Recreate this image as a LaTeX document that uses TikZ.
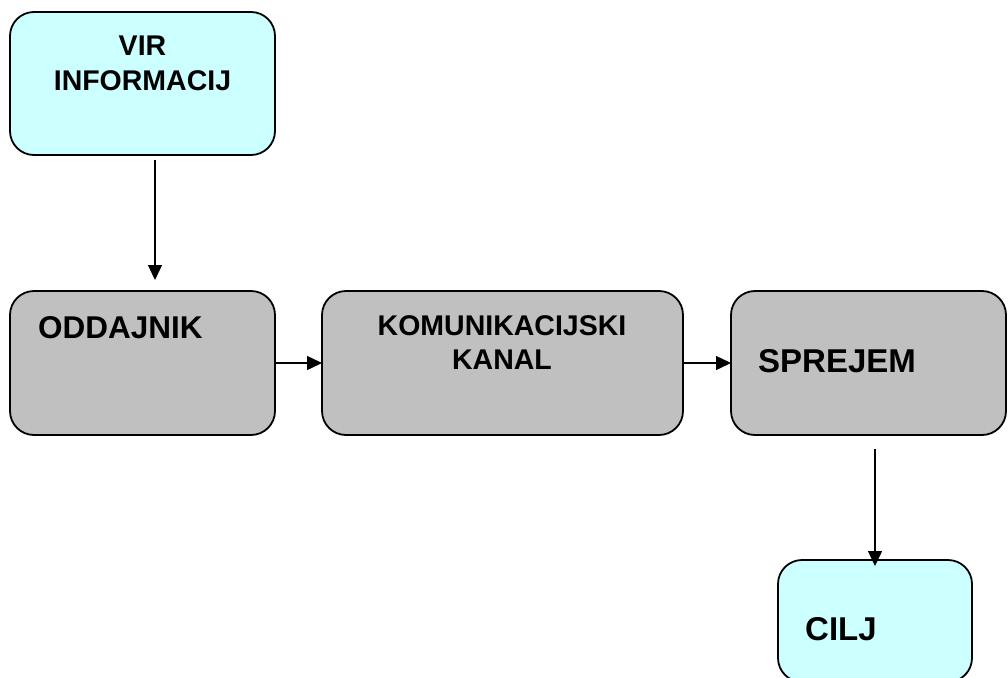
\documentclass[tikz,border=0pt]{standalone}
\usepackage{fontspec}
\setmainfont{Liberation Sans}
\usetikzlibrary{arrows.meta}
\definecolor{lcyan}{HTML}{CCFFFF}
\definecolor{lgray}{HTML}{C0C0C0}
\tikzset{
  boxbase/.style={draw=black, line width=1.8pt, rounded corners=24pt, rectangle, inner sep=0pt, outer sep=0pt},
  cbox/.style={boxbase, fill=lcyan},
  gbox/.style={boxbase, fill=lgray},
  lbl/.style={inner sep=0pt, font=\bfseries\fontsize{28.5}{34}\selectfont},
  biglbl/.style={inner sep=0pt, font=\bfseries\fontsize{33}{40}\selectfont},
  arr/.style={line width=1.4pt, -{Triangle[length=15pt,width=14pt]}}
}
\begin{document}
\begin{tikzpicture}[x=1pt,y=-1pt]
\useasboundingbox (0,0) rectangle (1008,677);
\clip (0,0) rectangle (1008,677);
\node[cbox, minimum width=265pt, minimum height=143pt] (vir) at (142.5,83.5) {};
\node[gbox, minimum width=265pt, minimum height=144pt] (odd) at (142.5,363) {};
\node[gbox, minimum width=361pt, minimum height=144pt] (kom) at (502.5,363) {};
\node[gbox, minimum width=275pt, minimum height=144pt] (spr) at (868.5,363) {};
\node[cbox, minimum width=194pt, minimum height=122pt] (cilj) at (875,621) {};
% labels
\node[lbl, anchor=base] (virA) at (142.5,56) {VIR};
\node[lbl, anchor=base] (virB) at (142.5,90) {INFORMACIJ};
\node[biglbl, anchor=base west, font=\bfseries\fontsize{31.5}{38}\selectfont] (oddT) at (38,338) {ODDAJNIK};
\node[lbl, anchor=base] (komA) at (502,335) {KOMUNIKACIJSKI};
\node[lbl, anchor=base] (komB) at (502,369) {KANAL};
\node[biglbl, anchor=base west] (sprT) at (758,372) {SPREJEM};
\node[biglbl, anchor=base west] (ciljT) at (805,640) {CILJ};
% connectors
\draw[arr] ([xshift=12.5pt,yshift=-5pt]vir.south) -- ([xshift=12.5pt,yshift=11pt]odd.north);
\draw[arr] (odd.east) -- (kom.west);
\draw[arr] (kom.east) -- (spr.west);
\draw[arr] ([yshift=-14pt]spr.south -| cilj.north) -- ([yshift=-6pt]cilj.north);
\end{tikzpicture}
\end{document}
